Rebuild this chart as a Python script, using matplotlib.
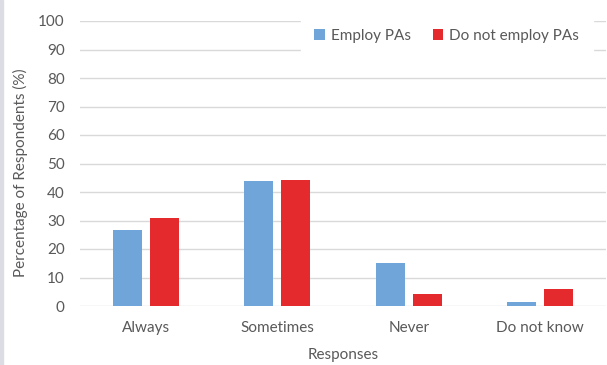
import matplotlib.pyplot as plt
import numpy as np
from matplotlib.patches import Rectangle

plt.rcParams['font.family'] = ['Lato', 'DejaVu Sans']

responses = ['Always', 'Sometimes', 'Never', 'Do not know']
employ = [26.7, 43.9, 15.0, 1.5]
not_employ = [30.8, 44.2, 4.1, 6.0]
yticks = [0, 10, 20, 30, 40, 50, 60, 70, 80, 90, 100]

text_col = '#595959'
blue = '#6FA5D8'
red = '#E52A2E'

fig = plt.figure(figsize=(6.07, 3.65), dpi=100)
ax = fig.add_axes([80 / 607, 59 / 365, 526 / 607, 285 / 365])

x = np.arange(len(responses))
w = 0.22
ax.bar(x - 0.141, employ, w, color=blue, label='Employ PAs', zorder=3)
ax.bar(x + 0.141, not_employ, w, color=red, label='Do not employ PAs', zorder=3)

ax.set_xlim(-0.5, 3.5)
ax.set_ylim(0, 100)
ax.set_yticks(yticks)
ax.yaxis.grid(True, color='#D9D9D9', linewidth=1, zorder=0)
for s in ax.spines.values():
    s.set_visible(False)
ax.tick_params(length=0, colors=text_col, labelsize=11)
ax.tick_params(axis='y', pad=11)
ax.tick_params(axis='x', pad=11)
ax.set_xticks(x)
ax.set_xticklabels(responses)

ax.set_ylabel('Percentage of Respondents (%)', color=text_col, fontsize=11)
ax.yaxis.set_label_coords(-0.099, 0.468)
ax.set_xlabel('Responses', color=text_col, fontsize=11, labelpad=9)

leg = ax.legend(loc='upper right', bbox_to_anchor=(0.99, 1.048), ncol=2, frameon=True,
                fontsize=11, handlelength=0.7, handleheight=0.7, handletextpad=0.4,
                columnspacing=1.4, borderpad=0.9, fancybox=False)
leg.get_frame().set_edgecolor('white')
leg.get_frame().set_facecolor('white')
leg.get_frame().set_alpha(1)
for t in leg.get_texts():
    t.set_color(text_col)

# thin grey border on the left edge
fig.patches.append(Rectangle((0, 0), 3 / 607, 1, transform=fig.transFigure,
                             color='#DCDCE4', zorder=5))

fig.savefig('out.png', dpi=100)
